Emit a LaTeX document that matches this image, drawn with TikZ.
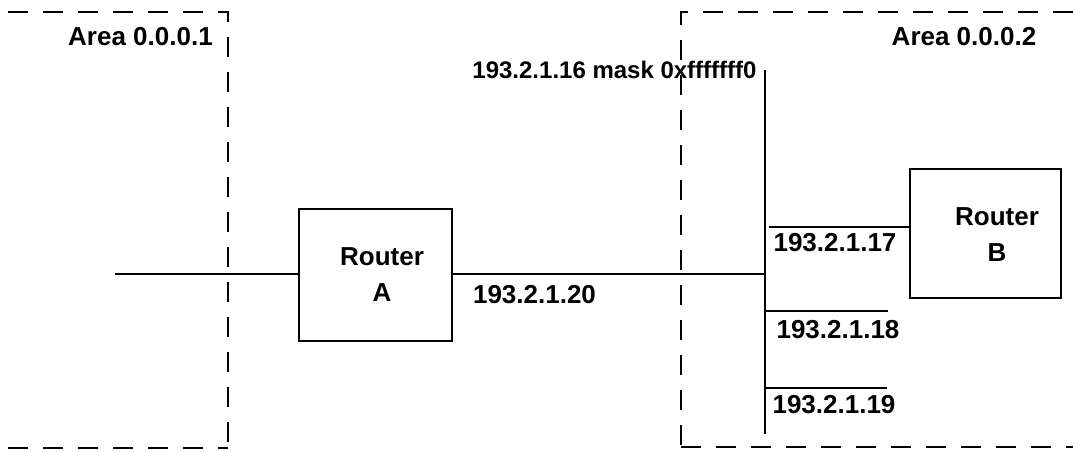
\documentclass[tikz,border=0pt]{standalone}
\usepackage{fontspec}
\setmainfont{Liberation Sans}
\begin{document}
\begin{tikzpicture}[x=0.75pt,y=-0.75pt,
  wire/.style={line width=1.2pt,black},
  areadash/.style={line width=1.2pt,black,dash pattern=on 15pt off 11.25pt},
  routerbox/.style={draw,line width=1.2pt,minimum width=153*0.75pt,minimum height=132*0.75pt,inner sep=0pt},
  routerboxb/.style={draw,line width=1.2pt,minimum width=151*0.75pt,minimum height=129*0.75pt,inner sep=0pt},
  lbl/.style={font=\bfseries\fontsize{19.5}{27}\selectfont,inner sep=0pt,align=center},
  smalllbl/.style={font=\bfseries\fontsize{18}{22}\selectfont,inner sep=0pt}]
\useasboundingbox (0,0) rectangle (1073,451);
% areas
\draw[areadash] (8,12) -- (228,12) -- (228,451);
\draw[areadash] (8,448) -- (228,448);
\draw[areadash] (1073,12) -- (681,12) -- (681,451);
\draw[areadash] (681,447) -- (1073,447);
\node[lbl] (a1) at (140.5,37) {Area 0.0.0.1};
\node[lbl] (a2) at (964,37) {Area 0.0.0.2};
% routers
\node[routerbox] (ra) at (375.5,275) {};
\node[lbl] (ratext) at (382,275) {Router\\A};
\node[routerboxb] (rb) at (985.5,233.5) {};
\node[lbl] (rbtext) at (997,235) {Router\\B};
% wires
\coordinate (lend) at (115,274);
\coordinate (bt) at (765,70);
\coordinate (bb) at (765,434);
\coordinate (bj) at (765,274);
\draw[wire] (lend) -- (lend -| ra.west);
\draw[wire] (bj -| ra.east) -- (bj);
\draw[wire] (bt) -- (bb);
\coordinate (j17) at (769,227);
\draw[wire] (j17) -- (j17 -| rb.west);
\coordinate (j18) at (765,311);
\coordinate (e18) at (888,311);
\draw[wire] (j18) -- (e18);
\coordinate (j19) at (765,388);
\coordinate (e19) at (887,388);
\draw[wire] (j19) -- (e19);
% labels
\node[smalllbl] (mask) at (614.5,70) {193.2.1.16 mask 0xfffffff0};
\node[lbl] (ip20) at (534.5,295) {193.2.1.20};
\node[lbl] (ip17) at (835,243) {193.2.1.17};
\node[lbl] (ip18) at (838,330) {193.2.1.18};
\node[lbl] (ip19) at (834,405) {193.2.1.19};
\end{tikzpicture}
\end{document}
